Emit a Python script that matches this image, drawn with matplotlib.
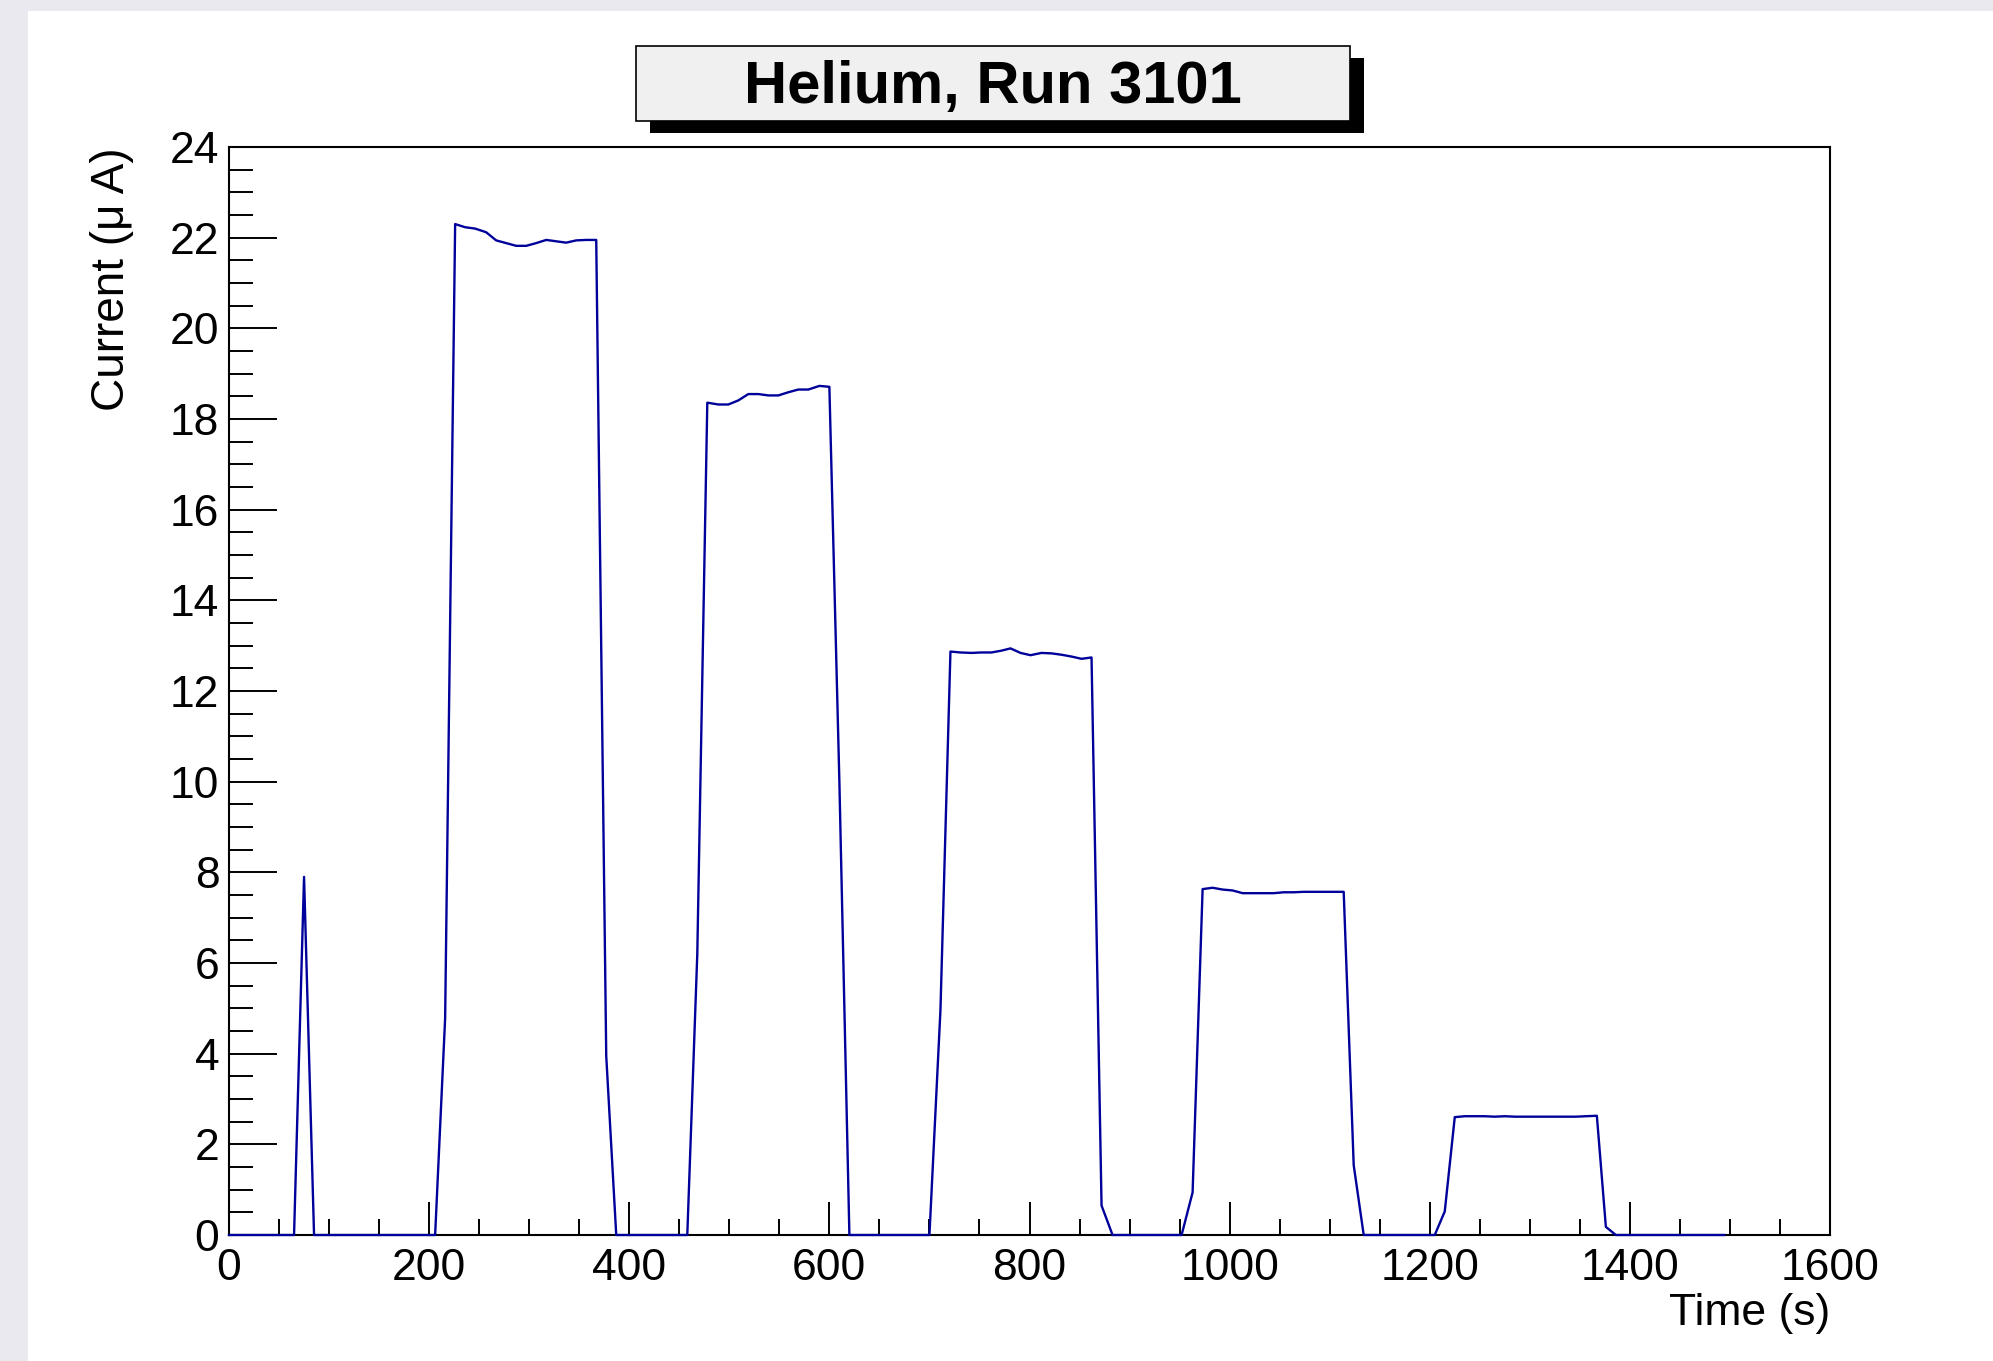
import matplotlib
matplotlib.use("Agg")
import matplotlib.pyplot as plt
from matplotlib.patches import Rectangle
from matplotlib.ticker import MultipleLocator

plt.rcParams['font.family'] = ['Liberation Sans', 'DejaVu Sans']

# beam current readout
time_s = [0, 65, 75, 85, 206, 216,
          226, 236, 246, 257, 267, 277, 287, 297, 307, 317, 327, 337, 347, 357, 367,
          377, 387, 458, 468,
          478, 489, 499, 509, 519, 529, 539, 549, 559, 569, 579, 590, 600,
          610, 620, 700, 711,
          721, 731, 742, 752, 762, 772, 781, 791, 801, 812, 822, 832, 842, 852, 862,
          872, 883, 952, 963,
          973, 983, 993, 1003, 1013, 1024, 1034, 1044, 1054, 1064, 1074, 1084, 1094, 1104, 1114,
          1124, 1134, 1205, 1215,
          1225, 1235, 1245, 1255, 1265, 1275, 1285, 1296, 1306, 1316, 1326, 1336, 1346, 1356, 1367,
          1376, 1386, 1494]
current_uA = [0, 0, 7.9, 0, 0, 4.78,
              22.30, 22.23, 22.20, 22.12, 21.94, 21.88, 21.82, 21.82, 21.88, 21.95, 21.92, 21.89, 21.94, 21.95, 21.95,
              3.95, 0, 0, 6.2,
              18.36, 18.32, 18.32, 18.41, 18.55, 18.55, 18.52, 18.52, 18.59, 18.65, 18.65, 18.73, 18.71,
              10.0, 0, 0, 4.96,
              12.87, 12.85, 12.84, 12.85, 12.85, 12.89, 12.94, 12.84, 12.79, 12.84, 12.83, 12.80, 12.76, 12.71, 12.74,
              0.65, 0, 0, 0.94,
              7.63, 7.66, 7.62, 7.60, 7.54, 7.54, 7.54, 7.54, 7.56, 7.56, 7.57, 7.57, 7.57, 7.57, 7.57,
              1.54, 0, 0, 0.52,
              2.60, 2.62, 2.62, 2.62, 2.61, 2.62, 2.61, 2.61, 2.61, 2.61, 2.61, 2.61, 2.61, 2.62, 2.63,
              0.18, 0, 0]

W, H = 1993, 1361
fig = plt.figure(figsize=(W / 100, H / 100), dpi=100)

# grey frame on the left and top edge of the screenshot
fig.patches.append(Rectangle((0, 0), 28 / W, 1, transform=fig.transFigure,
                             facecolor='#e9e9ef', edgecolor='none', zorder=0))
fig.patches.append(Rectangle((0, 1 - 11 / H), 1, 11 / H, transform=fig.transFigure,
                             facecolor='#e9e9ef', edgecolor='none', zorder=0))

ax = fig.add_axes([229 / W, 1 - 1235 / H, (1830 - 229) / W, (1235 - 147) / H])
# drawn over the frame so the zero baseline stays visible
ax.plot(time_s, current_uA, color='#00009a', lw=1.7, clip_on=False, zorder=5)

ax.set_xlim(0, 1600)
ax.set_ylim(0, 24)
ax.xaxis.set_major_locator(MultipleLocator(200))
ax.xaxis.set_minor_locator(MultipleLocator(50))
ax.yaxis.set_major_locator(MultipleLocator(2))
ax.yaxis.set_minor_locator(MultipleLocator(0.5))

ax.tick_params(axis='x', which='major', direction='in', length=23.5, width=1.4,
               labelsize=32, pad=9, top=False)
ax.tick_params(axis='x', which='minor', direction='in', length=11.7, width=1.4, top=False)
ax.tick_params(axis='y', which='major', direction='in', length=34.5, width=1.4,
               labelsize=32, pad=7, right=False)
ax.tick_params(axis='y', which='minor', direction='in', length=17.2, width=1.4, right=False)
for s in ax.spines.values():
    s.set_linewidth(1.5)

fig.text(1830 / W, 1 - 1314 / H, 'Time (s)', fontsize=32, ha='right', va='center')
fig.text(112 / W, 1 - 147 / H, 'Current (μ A)', fontsize=33, rotation=90,
         ha='center', va='top')

# title box with drop shadow, ROOT style
bx0, by0, bx1, by1 = 636, 46, 1350, 121
fig.patches.append(Rectangle(((bx0 + 14) / W, 1 - (by1 + 12) / H), (bx1 - bx0) / W, (by1 - by0) / H,
                             transform=fig.transFigure, facecolor='black', edgecolor='none', zorder=2))
fig.patches.append(Rectangle((bx0 / W, 1 - by1 / H), (bx1 - bx0) / W, (by1 - by0) / H,
                             transform=fig.transFigure, facecolor='#f0f0f0', edgecolor='black',
                             lw=1.2, zorder=3))
fig.text((bx0 + bx1) / 2 / W, 1 - ((by0 + by1) / 2 + 4) / H, 'Helium, Run 3101', fontsize=43,
         fontweight='bold', ha='center', va='center', zorder=4)

plt.savefig('out.png', dpi=100)
